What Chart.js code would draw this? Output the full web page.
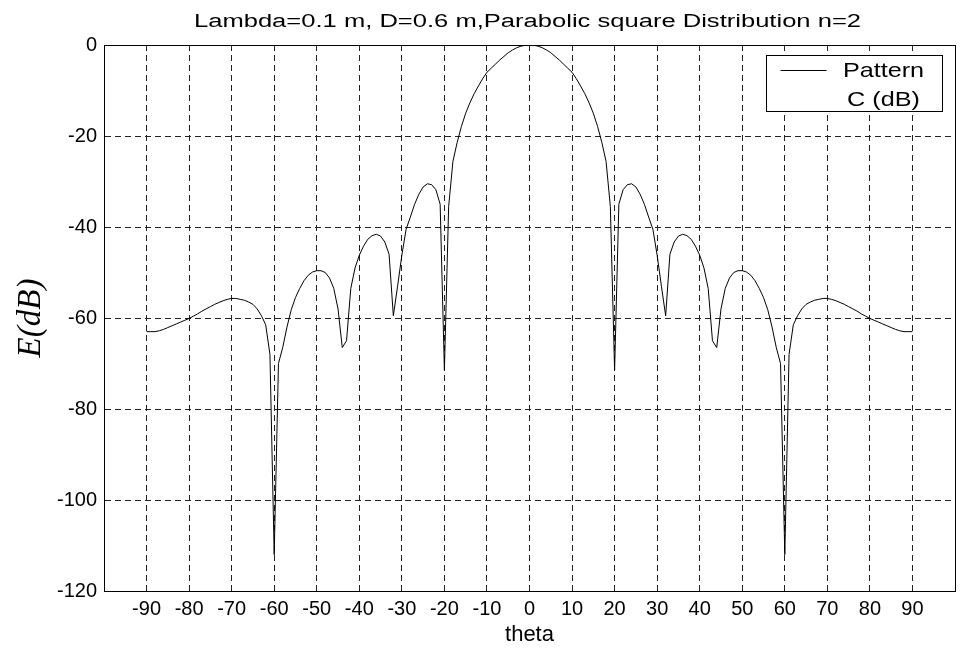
<!DOCTYPE html>
<html>
<head>
<meta charset="utf-8">
<script src="https://cdn.jsdelivr.net/npm/chart.js@4.4.1/dist/chart.umd.min.js"></script>
<style>
  body { margin: 0; background: #ffffff; }
  #wrap { width: 961px; height: 648px; }
</style>
</head>
<body>
<div id="wrap"><canvas id="pattern-chart" width="961" height="648"></canvas></div>
<script>
// angle in degrees
const theta = [
  -90, -89, -88, -87, -86, -85, -84, -83, -82, -81,
  -80, -79, -78, -77, -76, -75, -74, -73, -72, -71,
  -70, -69, -68, -67, -66, -65, -64, -63, -62, -61,
  -60, -59, -58, -57, -56, -55, -54, -53, -52, -51,
  -50, -49, -48, -47, -46, -45, -44, -43, -42, -41,
  -40, -39, -38, -37, -36, -35, -34, -33, -32, -31,
  -30, -29, -28, -27, -26, -25, -24, -23, -22, -21,
  -20, -19, -18, -17, -16, -15, -14, -13, -12, -11,
  -10, -9, -8, -7, -6, -5, -4, -3, -2, -1,
  0,
  1, 2, 3, 4, 5, 6, 7, 8, 9, 10,
  11, 12, 13, 14, 15, 16, 17, 18, 19, 20,
  21, 22, 23, 24, 25, 26, 27, 28, 29, 30,
  31, 32, 33, 34, 35, 36, 37, 38, 39, 40,
  41, 42, 43, 44, 45, 46, 47, 48, 49, 50,
  51, 52, 53, 54, 55, 56, 57, 58, 59, 60,
  61, 62, 63, 64, 65, 66, 67, 68, 69, 70,
  71, 72, 73, 74, 75, 76, 77, 78, 79, 80,
  81, 82, 83, 84, 85, 86, 87, 88, 89, 90
];

// pattern C in dB
const patternDb = [
  -63.0, -63.0, -63.0, -62.8, -62.5, -62.1, -61.7, -61.3, -60.9, -60.5,
  -60.1, -59.6, -59.1, -58.5, -58.0, -57.5, -57.0, -56.6, -56.2, -55.9,
  -55.7, -55.7, -55.9, -56.1, -56.5, -57.0, -58.0, -59.5, -61.5, -68.0,
  -112.0, -70.0, -66.5, -62.0, -58.2, -55.5, -53.5, -51.8, -50.6, -49.9,
  -49.6, -49.6, -50.0, -51.2, -53.5, -58.0, -66.5, -65.0, -53.5, -49.0,
  -46.2, -44.2, -42.7, -41.9, -41.6, -42.0, -43.3, -46.0, -59.5, -53.0,
  -46.2, -40.5, -37.8, -35.0, -32.8, -31.2, -30.5, -30.7, -31.8, -35.0,
  -71.5, -35.5, -25.6, -21.4, -17.9, -15.0, -12.7, -10.7, -9.0, -7.4,
  -6.0, -5.1, -4.2, -3.3, -2.5, -1.7, -1.1, -0.6, -0.25, -0.06,
  0,
  -0.06, -0.25, -0.6, -1.1, -1.7, -2.5, -3.3, -4.2, -5.1, -6.0,
  -7.4, -9.0, -10.7, -12.7, -15.0, -17.9, -21.4, -25.6, -35.5, -71.5,
  -35.0, -31.8, -30.7, -30.5, -31.2, -32.8, -35.0, -37.8, -40.5, -46.2,
  -53.0, -59.5, -46.0, -43.3, -42.0, -41.6, -41.9, -42.7, -44.2, -46.2,
  -49.0, -53.5, -65.0, -66.5, -58.0, -53.5, -51.2, -50.0, -49.6, -49.6,
  -49.9, -50.6, -51.8, -53.5, -55.5, -58.2, -62.0, -66.5, -70.0, -112.0,
  -68.0, -61.5, -59.5, -58.0, -57.0, -56.5, -56.1, -55.9, -55.7, -55.7,
  -55.9, -56.2, -56.6, -57.0, -57.5, -58.0, -58.5, -59.1, -59.6, -60.1,
  -60.5, -60.9, -61.3, -61.7, -62.1, -62.5, -62.8, -63.0, -63.0, -63.0
];

const yTicks = [0, -20, -40, -60, -80, -100, -120];
const legendLines = ["Pattern", "C (dB)"];
const titleText = "Lambda=0.1 m, D=0.6 m,Parabolic square Distribution n=2";

const font = "'Liberation Sans', Arial, sans-serif";

// box around the plot, MATLAB style legend and stretched title
const framePlugin = {
  id: "frame",
  afterDraw(chart) {
    const { ctx, chartArea: a } = chart;
    ctx.save();
    ctx.strokeStyle = "#000";
    ctx.lineWidth = 1;
    ctx.setLineDash([]);
    ctx.strokeRect(Math.round(a.left) + 0.5, Math.round(a.top) + 0.5,
      Math.round(a.right - a.left), Math.round(a.bottom - a.top));

    // legend
    const bx = Math.round(a.right) - 189 + 0.5;
    const by = Math.round(a.top) + 10 + 0.5;
    ctx.fillStyle = "#fff";
    ctx.fillRect(bx, by, 176, 56);
    ctx.strokeRect(bx, by, 176, 56);
    ctx.beginPath();
    ctx.moveTo(bx + 14, by + 15);
    ctx.lineTo(bx + 60, by + 15);
    ctx.stroke();
    ctx.fillStyle = "#000";
    ctx.textAlign = "center";
    ctx.textBaseline = "middle";
    ctx.font = "21px " + font;
    legendLines.forEach((t, i) => {
      ctx.save();
      ctx.translate(bx + 117, by + 16 + i * 29);
      ctx.scale(1.2, 1);
      ctx.fillText(t, 0, 0);
      ctx.restore();
    });

    // title
    ctx.save();
    ctx.translate((a.left + a.right) / 2 - 2, 22);
    ctx.scale(1.42, 1);
    ctx.font = "18px " + font;
    ctx.fillText(titleText, 0, 0);
    ctx.restore();
    ctx.restore();
  }
};

const canvas = document.querySelector("#pattern-chart");
const points = theta.map((t, i) => ({ x: t, y: patternDb[i] }));

const options = {
  type: "line",
  data: {
    datasets: [
      {
        label: legendLines.join(" "),
        data: points,
        borderColor: "#000000",
        borderWidth: 1,
        pointRadius: 0,
        tension: 0,
        fill: false,
      },
    ],
  },
  options: {
    responsive: false,
    devicePixelRatio: 1,
    animation: false,
    layout: { padding: { top: 45, right: 4, left: 0, bottom: 0 } },
    plugins: {
      legend: { display: false },
      title: { display: false },
      tooltip: { enabled: false },
    },
    scales: {
      x: {
        type: "linear",
        min: -100,
        max: 100,
        afterFit(scale) { scale.height = 57; },
        afterBuildTicks(scale) {
          const ticks = [];
          for (let v = -100; v <= 100; v += 10) ticks.push({ value: v });
          scale.ticks = ticks;
        },
        ticks: {
          autoSkip: false,
          maxRotation: 0,
          padding: 6,
          color: "#000",
          font: { family: font, size: 20 },
          callback: (v) => (v === -100 || v === 100 ? "" : v),
        },
        grid: { color: "#222", lineWidth: 1, drawTicks: false },
        border: { display: true, color: "#000", dash: [6, 4] },
        title: {
          display: true,
          text: "theta",
          color: "#000",
          font: { family: font, size: 22 },
          padding: { top: 0, bottom: 0 },
        },
      },
      y: {
        min: -120,
        max: 0,
        afterFit(scale) { scale.width = 104; },
        afterBuildTicks(scale) {
          scale.ticks = yTicks.map((v) => ({ value: v }));
        },
        ticks: {
          padding: 7,
          color: "#000",
          font: { family: font, size: 20 },
        },
        grid: { color: "#222", lineWidth: 1, drawTicks: false },
        border: { display: true, color: "#000", dash: [6, 4] },
        title: {
          display: true,
          text: "E(dB)",
          color: "#000",
          font: { family: "'Liberation Serif', 'Times New Roman', serif", style: "italic", size: 33 },
          padding: { top: 12, bottom: 0 },
        },
      },
    },
  },
  plugins: [framePlugin],
};

const patternChart = new Chart(canvas, options);
</script>
</body>
</html>
